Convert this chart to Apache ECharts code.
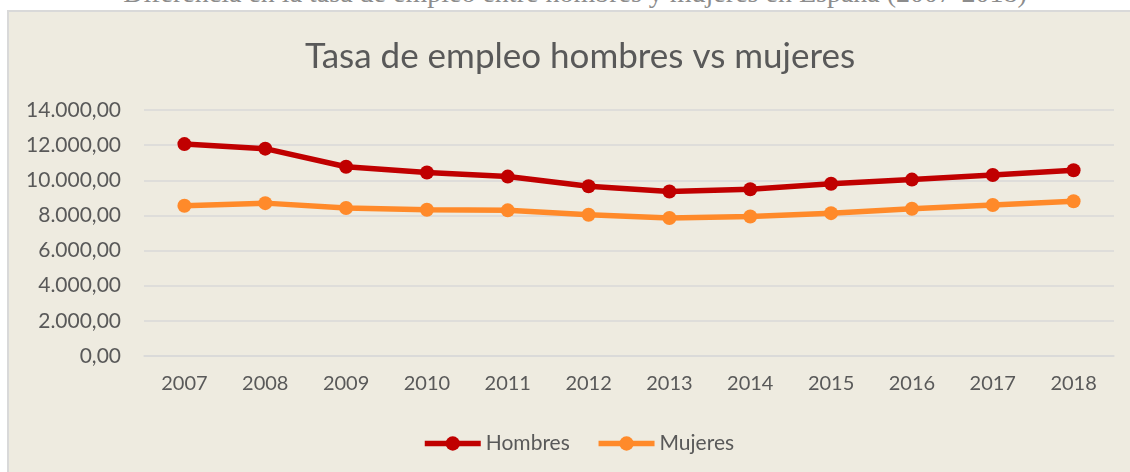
<!DOCTYPE html>
<html>
<head>
<meta charset="utf-8">
<script src="https://cdn.jsdelivr.net/npm/echarts@6/dist/echarts.min.js"></script>
<style>
  html, body { margin: 0; padding: 0; background: #ffffff; }
  body { width: 1130px; height: 472px; position: relative; overflow: hidden; }
  .caption {
    position: absolute; left: 0; width: 1150px; top: -21px;
    line-height: 28px; text-align: center;
    font-family: "Liberation Serif", serif; font-size: 28px; color: #8c8c8c;
  }
  .frame {
    position: absolute; left: 7px; top: 10px; width: 1123px; height: 462px;
    box-sizing: border-box; border-left: 2px solid #d9d9d9; border-top: 2px solid #d9d9d9;
    background: #eeebe0;
  }
  #chart { width: 1121px; height: 460px; }
</style>
</head>
<body>
<div class="caption">Diferencia en la tasa de empleo entre hombres y mujeres en España (2007-2018)</div>
<div class="frame"><div id="chart"></div></div>
<script>
const years = ['2007', '2008', '2009', '2010', '2011', '2012', '2013', '2014', '2015', '2016', '2017', '2018'];
const hombres = [12060, 11800, 10770, 10440, 10210, 9660, 9360, 9490, 9800, 10040, 10300, 10570];
const mujeres = [8550, 8700, 8420, 8320, 8290, 8040, 7850, 7940, 8130, 8380, 8590, 8810];
const yTicks = [0, 2000, 4000, 6000, 8000, 10000, 12000, 14000];

const textColor = '#595959';
const font = 'Lato, "Open Sans", sans-serif';

// 12000 -> "12.000,00"
function fmt(v) {
  const s = Math.round(v).toString().replace(/\B(?=(\d{3})+(?!\d))/g, '.');
  return s + ',00';
}

let charts = echarts.init(document.getElementById('chart'));
let option = {
  backgroundColor: 'transparent',
  animation: false,
  title: {
    text: 'Tasa de empleo hombres vs mujeres',
    left: 291,
    top: 22,
    textStyle: { fontFamily: font, fontSize: 35, fontWeight: 'normal', color: textColor }
  },
  legend: {
    left: 408,
    top: 416,
    itemWidth: 56,
    itemHeight: 18,
    itemGap: 26,
    lineStyle: { width: 5.5 },
    textStyle: { fontFamily: font, fontSize: 21, color: textColor },
    data: ['Hombres', 'Mujeres']
  },
  grid: { left: 135, right: 16, top: 98, bottom: 116 },
  xAxis: {
    type: 'category',
    data: years,
    boundaryGap: true,
    axisLine: { lineStyle: { color: '#d9d9d9', width: 1.5 } },
    axisTick: { show: false },
    axisLabel: { margin: 18, fontFamily: font, fontSize: 20, color: textColor }
  },
  yAxis: {
    type: 'value',
    min: yTicks[0],
    max: yTicks[yTicks.length - 1],
    interval: 2000,
    axisLine: { show: false },
    axisTick: { show: false },
    splitLine: { lineStyle: { color: '#d9d9d9', width: 1.5 } },
    axisLabel: { margin: 23, fontFamily: font, fontSize: 21, color: textColor, formatter: fmt }
  },
  series: [
    {
      name: 'Hombres',
      type: 'line',
      data: hombres,
      symbol: 'circle',
      symbolSize: 14,
      color: '#c00000',
      lineStyle: { width: 5.5, color: '#c00000' },
      itemStyle: { color: '#c00000' }
    },
    {
      name: 'Mujeres',
      type: 'line',
      data: mujeres,
      symbol: 'circle',
      symbolSize: 14,
      color: '#ff8a2a',
      lineStyle: { width: 5.5, color: '#ff8a2a' },
      itemStyle: { color: '#ff8a2a' }
    }
  ]
};
charts.setOption(option);
</script>
</body>
</html>
